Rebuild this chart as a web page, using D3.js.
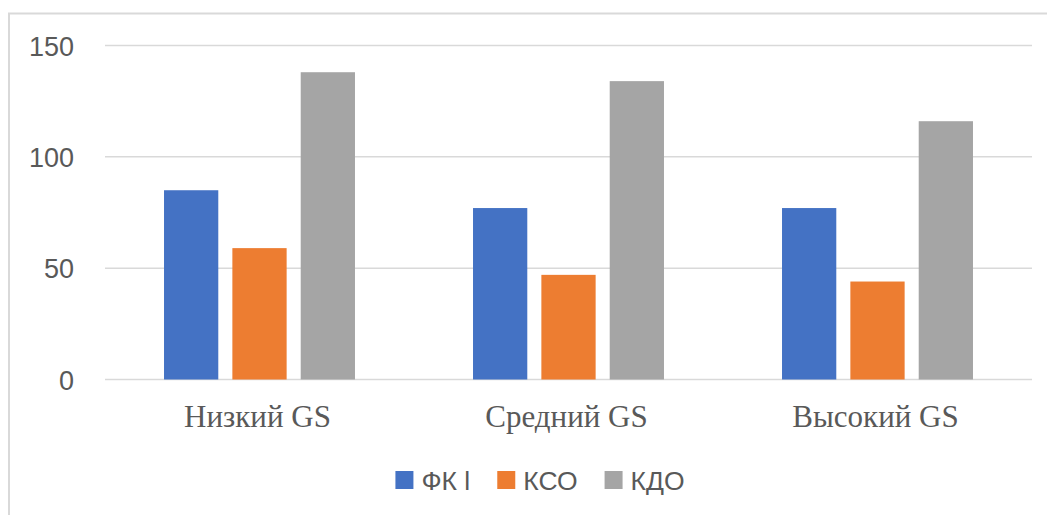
<!DOCTYPE html>
<html>
<head>
<meta charset="utf-8">
<script src="https://cdn.jsdelivr.net/npm/d3@7"></script>
<style>
  html, body { margin: 0; padding: 0; background: #fff; }
  svg { display: block; }
</style>
</head>
<body>
<svg id="chart" width="1047" height="515"></svg>
<script>
// Categories, series and values
const categories = ["Низкий GS", "Средний GS", "Высокий GS"];
const seriesNames = ["ФК l", "КСО", "КДО"];
const seriesColors = ["#4472C4", "#ED7D31", "#A5A5A5"];
const valuesFK = [85, 77, 77];
const valuesKSO = [59, 47, 44];
const valuesKDO = [138, 134, 116];
const yTicks = [0, 50, 100, 150];

const seriesValues = [valuesFK, valuesKSO, valuesKDO];
const rows = categories.map((c, i) => ({
  category: c,
  bars: seriesNames.map((s, j) => ({ series: s, value: seriesValues[j][i], color: seriesColors[j] }))
}));

const svg = d3.select("#chart");
const W = 1047, H = 515;
const plot = { left: 105, right: 1032, top: 45.5, bottom: 379.5 };

// Chart frame (left and top edges visible)
svg.append("path")
  .attr("d", `M9,${H} L9,13.5 L${W},13.5`)
  .attr("fill", "none")
  .attr("stroke", "#d9d9d9")
  .attr("stroke-width", 2);

const x0 = d3.scaleBand()
  .domain(categories)
  .range([plot.left, plot.right])
  .paddingInner(0.382)
  .paddingOuter(0.191);

const x1 = d3.scaleBand()
  .domain(seriesNames)
  .range([0, x0.bandwidth()])
  .paddingInner(0.206)
  .paddingOuter(0);

const y = d3.scaleLinear().domain([0, 150]).range([plot.bottom, plot.top]);

// Horizontal gridlines
svg.append("g")
  .selectAll("line")
  .data(yTicks)
  .join("line")
  .attr("x1", plot.left)
  .attr("x2", plot.right)
  .attr("y1", d => y(d))
  .attr("y2", d => y(d))
  .attr("stroke", "#d9d9d9")
  .attr("stroke-width", 1.5);

// Y axis labels
const yAxis = d3.axisLeft(y).tickValues(yTicks).tickSize(0).tickPadding(0);
const gy = svg.append("g").attr("transform", "translate(74,0)").call(yAxis);
gy.select(".domain").remove();
gy.selectAll("text")
  .attr("font-family", "'Liberation Sans', Arial, sans-serif")
  .attr("font-size", 27)
  .attr("fill", "#595959")
  .attr("dy", "0.36em");

// Bars
const groups = svg.append("g")
  .selectAll("g")
  .data(rows)
  .join("g")
  .attr("transform", d => `translate(${x0(d.category)},0)`);

groups.selectAll("rect")
  .data(d => d.bars)
  .join("rect")
  .attr("x", d => x1(d.series))
  .attr("width", x1.bandwidth())
  .attr("y", d => y(d.value))
  .attr("height", d => y(0) - y(d.value))
  .attr("fill", d => d.color);

// Category labels
const xAxis = d3.axisBottom(x0).tickSize(0).tickPadding(0);
const gx = svg.append("g").attr("transform", `translate(-2,427)`).call(xAxis);
gx.select(".domain").remove();
gx.selectAll("text")
  .attr("font-family", "'Liberation Serif', 'Times New Roman', serif")
  .attr("font-size", 31)
  .attr("fill", "#595959")
  .attr("dy", 0);

// Legend
const legend = svg.append("g");
const items = legend.selectAll("g")
  .data(seriesNames.map((s, i) => ({ name: s, color: seriesColors[i] })))
  .join("g");
items.append("rect")
  .attr("width", 18).attr("height", 18)
  .attr("y", 471)
  .attr("fill", d => d.color);
items.append("text")
  .attr("x", 26)
  .attr("y", 489.5)
  .attr("font-family", "'Liberation Sans', Arial, sans-serif")
  .attr("font-size", 26.5)
  .attr("fill", "#595959")
  .text(d => d.name);
const itemGap = 27;
const widths = [];
items.each(function () {
  const w = 26 + this.querySelector("text").getComputedTextLength();
  widths.push(w);
});
const total = d3.sum(widths) + itemGap * (widths.length - 1);
let cx = 540 - total / 2;
items.attr("transform", (d, i) => {
  const t = `translate(${cx},0)`;
  cx += widths[i] + itemGap;
  return t;
});
</script>
</body>
</html>
